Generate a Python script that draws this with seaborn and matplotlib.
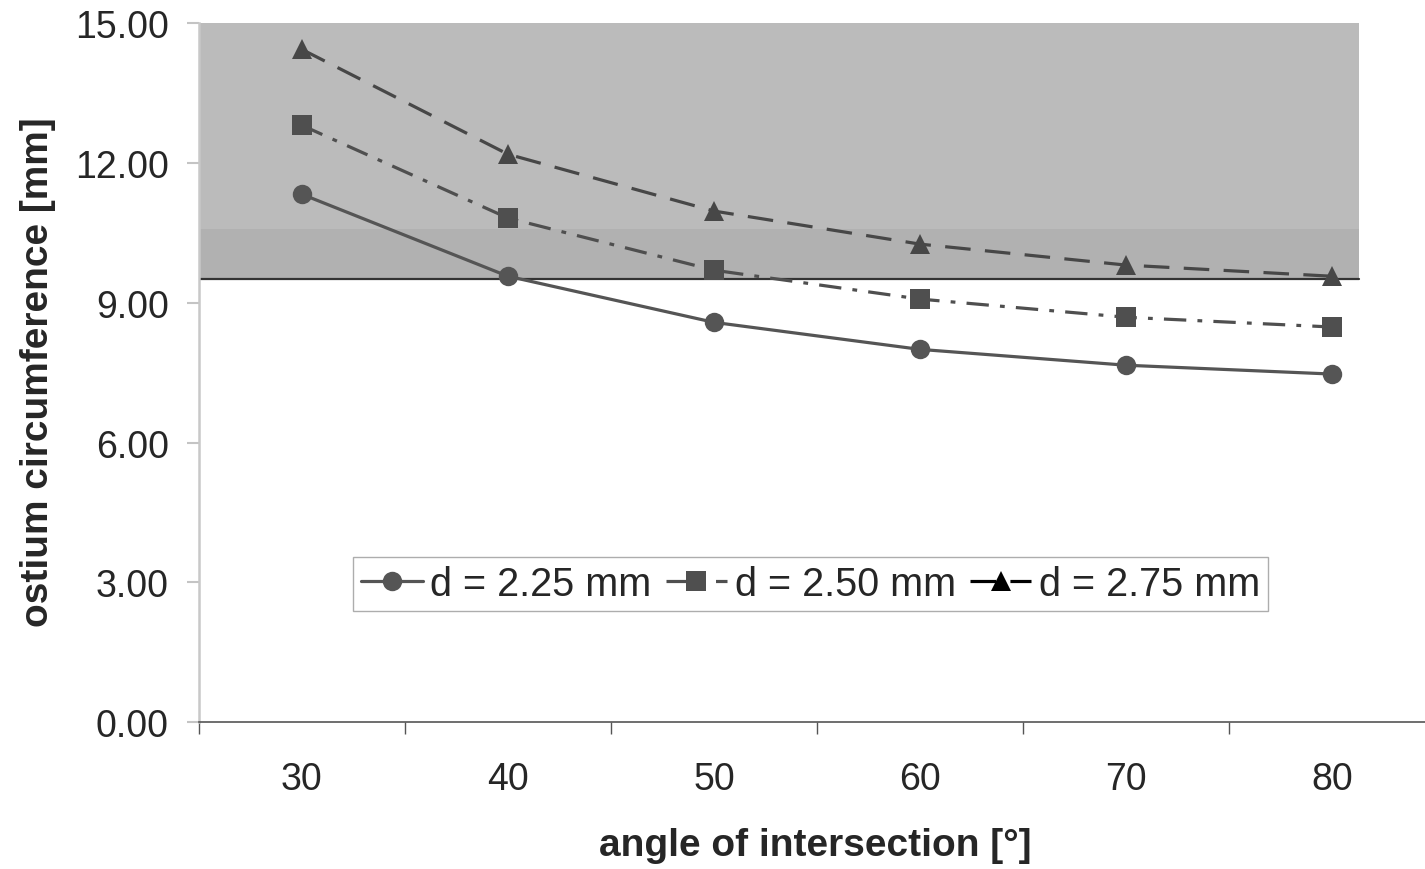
import numpy as np
import pandas as pd
import matplotlib
matplotlib.use('Agg')
import matplotlib.pyplot as plt
import seaborn as sns

# ------------------------------------------------------------
# DATA
# ------------------------------------------------------------
angles = ['30', '40', '50', '60', '70', '80']
series_names = ['d = 2.25 mm', 'd = 2.50 mm', 'd = 2.75 mm']
circ_225 = [11.33, 9.57, 8.58, 8.00, 7.66, 7.47]
circ_250 = [12.81, 10.82, 9.70, 9.08, 8.69, 8.48]
circ_275 = [14.44, 12.19, 10.97, 10.26, 9.81, 9.57]

threshold = 9.51      # horizontal reference line
band_top = 10.58      # top of the darker band
shade_top = 15.0
y_ticks = [0, 3, 6, 9, 12, 15]

df = pd.DataFrame({
    'angle': angles * 3,
    'circ': circ_225 + circ_250 + circ_275,
    'series': np.repeat(series_names, len(angles)),
})

# ------------------------------------------------------------
# STYLE
# ------------------------------------------------------------
sns.set_style('white')
plt.rcParams['font.family'] = ['Liberation Sans', 'DejaVu Sans']

palette = {series_names[0]: '#555555', series_names[1]: '#4f4f4f', series_names[2]: '#474747'}
markers = {series_names[0]: 'o', series_names[1]: 's', series_names[2]: '^'}
dashes = {series_names[0]: '', series_names[1]: (7, 3.5, 1.5, 3.5), series_names[2]: (8, 4.5)}

fig = plt.figure(figsize=(14.25, 8.7), dpi=100)
ax = fig.add_axes([0.1396, 0.169, 0.8674, 0.803])

shade_frac = 0.9385
ax.axhspan(threshold, shade_top, xmin=0, xmax=shade_frac, color='#bbbbbb', lw=0, zorder=0)
ax.axhspan(threshold, band_top, xmin=0, xmax=shade_frac, color='#b1b1b1', lw=0, zorder=0)
ax.axhline(threshold, xmin=0, xmax=shade_frac, color='#333333', lw=1.6, zorder=1)

sns.lineplot(
    data=df, x='angle', y='circ', hue='series', style='series',
    palette=palette, markers=markers, dashes=dashes, sort=False,
    linewidth=2.3, markersize=14, markeredgewidth=0, ax=ax, zorder=3,
)

ax.set_xlim(-0.5, 5.5)
ax.set_ylim(0, 15)
ax.set_yticks(y_ticks)
ax.set_yticklabels([f'{v:.2f}' for v in y_ticks])

# categories centred between boundary ticks (Excel style)
ax.set_xticks(range(len(angles)))
ax.set_xticklabels(angles)
ax.set_xticks(np.arange(-0.5, len(angles), 1.0), minor=True)
ax.tick_params(axis='x', which='major', length=0, pad=28, labelsize=27)
ax.tick_params(axis='x', which='minor', length=8.6, width=1.0, color='#555555', direction='out')
ax.tick_params(axis='y', which='major', length=8.6, width=1.5, color='#c4c4c4',
               direction='out', pad=13, labelsize=27)
ax.tick_params(left=True, bottom=True, which='both')

for s in ['top', 'right']:
    ax.spines[s].set_visible(False)
ax.spines['left'].set_color('#c8c8c8')
ax.spines['left'].set_linewidth(1.8)
ax.spines['bottom'].set_color('#555555')
ax.spines['bottom'].set_linewidth(1.2)

ax.set_xlabel('angle of intersection [°]', fontsize=28, fontweight='bold')
ax.set_ylabel('ostium circumference [mm]', fontsize=28, fontweight='bold')
ax.xaxis.set_label_coords(0.499, -0.150)
ax.yaxis.set_label_coords(-0.116, 0.502)

handles, labels = ax.get_legend_handles_labels()
leg = ax.legend(
    handles, labels, ncol=3, loc='center', bbox_to_anchor=(0.495, 0.197),
    fontsize=28.5, frameon=True, fancybox=False, edgecolor='#999999',
    handlelength=1.55, handletextpad=0.2, columnspacing=0.35,
    borderpad=0.2, borderaxespad=0,
)
leg.get_frame().set_linewidth(1.0)
leg.legend_handles[2].set_color('black')

fig.savefig('out.png', dpi=100, facecolor='white')
